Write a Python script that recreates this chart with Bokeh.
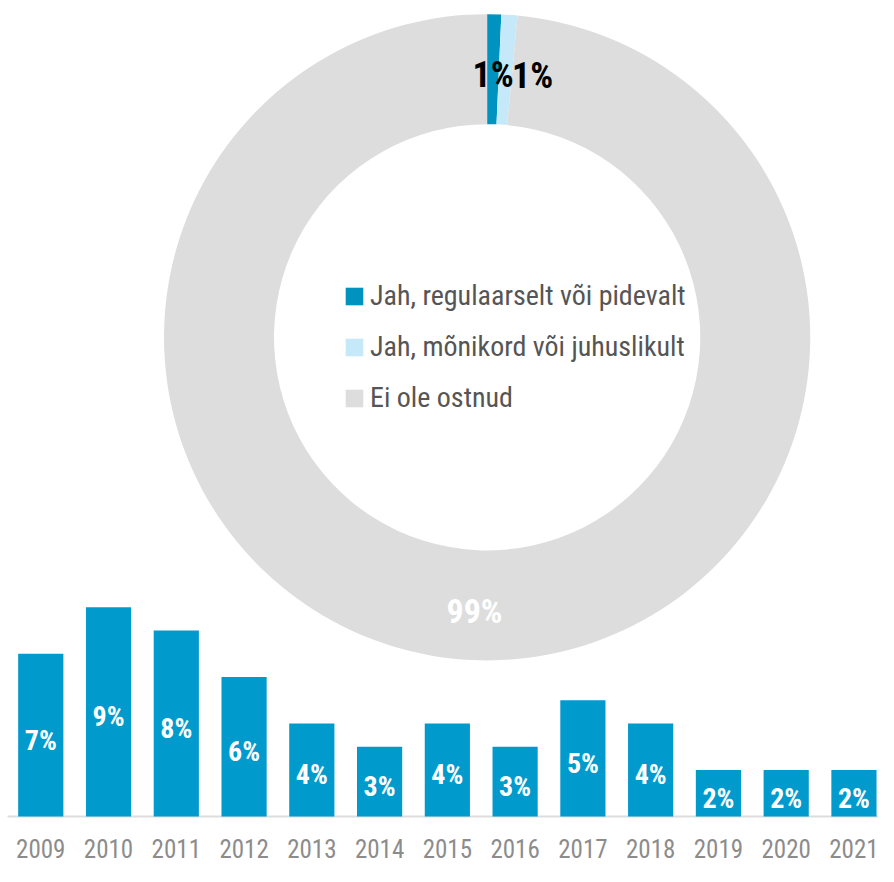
import math
from bokeh.plotting import figure
from bokeh.models import Range1d, Legend, LegendItem, ColumnDataSource
from bokeh.core.properties import value
from bokeh.embed import file_html
from bokeh.resources import INLINE

# ---- data ----
donut_labels = ["Jah, regulaarselt või pidevalt", "Jah, mõnikord või juhuslikult", "Ei ole ostnud"]
donut_values = [0.7, 0.8, 98.5]
donut_texts = ["1%", "1%", "99%"]
donut_colors = ["#0093BF", "#C6E9F9", "#DDDDDD"]

years = ["2009", "2010", "2011", "2012", "2013", "2014", "2015", "2016",
         "2017", "2018", "2019", "2020", "2021"]
bar_values = [7, 9, 8, 6, 4, 3, 4, 3, 5, 4, 2, 2, 2]
bar_texts = ["7%", "9%", "8%", "6%", "4%", "3%", "4%", "3%", "5%", "4%", "2%", "2%", "2%"]

FONT = "Roboto Condensed, Roboto"

W, H = 878, 866
p = figure(width=W, height=H, output_backend="svg", toolbar_location=None,
           x_range=Range1d(0, 894), y_range=Range1d(0, 882),
           x_axis_location=None, y_axis_location=None, min_border=0)
p.outline_line_color = None
p.grid.visible = False
p.background_fill_color = "white"

# ranges for the bar chart (index units / percent units)
p.extra_x_ranges = {"idx": Range1d(-41 / 69, (894 - 41) / 69)}
p.extra_y_ranges = {"pct": Range1d(-(882 - 831) / 23.67, 831 / 23.67)}

# ---- donut ----
cx, cy = 495.5, 882 - 343
r_in, r_out = 217, 329
total = sum(donut_values)
starts, ends, mids = [], [], []
cum = 0.0
for v in donut_values:
    a0 = math.pi / 2 - 2 * math.pi * cum / total
    cum += v
    a1 = math.pi / 2 - 2 * math.pi * cum / total
    starts.append(a0)
    ends.append(a1)
    mids.append((a0 + a1) / 2)

dsrc = ColumnDataSource(dict(start=starts, end=ends, color=donut_colors, label=donut_labels))
wedges = p.annular_wedge(x=cx, y=cy, inner_radius=r_in, outer_radius=r_out,
                         start_angle="start", end_angle="end", direction="clock",
                         fill_color="color", line_color=None, source=dsrc)

r_mid = (r_in + r_out) / 2
lx = [cx + r_mid * math.cos(m) for m in mids]
ly = [cy + r_mid * math.sin(m) for m in mids]
p.text(x=lx, y=ly, text=donut_texts, x_offset=[0, 27, 0], y_offset=6,
       text_color=["#000000", "#000000", "#FFFFFF"], text_font=value(FONT),
       text_font_style="bold", text_font_size=["36px", "36px", "34px"],
       text_align="center", text_baseline="middle")

# legend with square markers
legend_items = []
nan = float("nan")
for lab, col in zip(donut_labels, donut_colors):
    r = p.quad(left=[nan], right=[nan], top=[nan], bottom=[nan],
               fill_color=col, line_color=None)
    legend_items.append(LegendItem(label=lab, renderers=[r]))
legend = Legend(items=legend_items, location=(343, 452), orientation="vertical",
                glyph_width=22, glyph_height=22, label_height=22,
                label_text_font=FONT, label_text_font_size="28px",
                label_text_color="#555555", spacing=18, padding=0, margin=0,
                label_standoff=5, border_line_color=None, background_fill_alpha=0)
p.add_layout(legend)

# ---- bars ----
idx = list(range(len(years)))
p.segment(x0=[-0.49], x1=[12.5], y0=[0], y1=[0], line_color="#DDDDDD", line_width=2,
          x_range_name="idx", y_range_name="pct")
p.vbar(x=idx, top=bar_values, bottom=0, width=46 / 69, fill_color="#009ACD",
       line_color=None, x_range_name="idx", y_range_name="pct")
p.text(x=idx, y=[v / 2 for v in bar_values], text=bar_texts, text_color="white",
       text_font=value(FONT), text_font_style="bold", text_font_size="28px",
       text_align="center", text_baseline="middle", y_offset=5,
       x_range_name="idx", y_range_name="pct")
p.text(x=idx, y=[-1.40] * len(idx), text=years, text_color="#8C8C8C",
       text_font=value(FONT), text_font_size="25px",
       text_align="center", text_baseline="middle",
       x_range_name="idx", y_range_name="pct")

open("out.html", "w").write(file_html(p, INLINE))
